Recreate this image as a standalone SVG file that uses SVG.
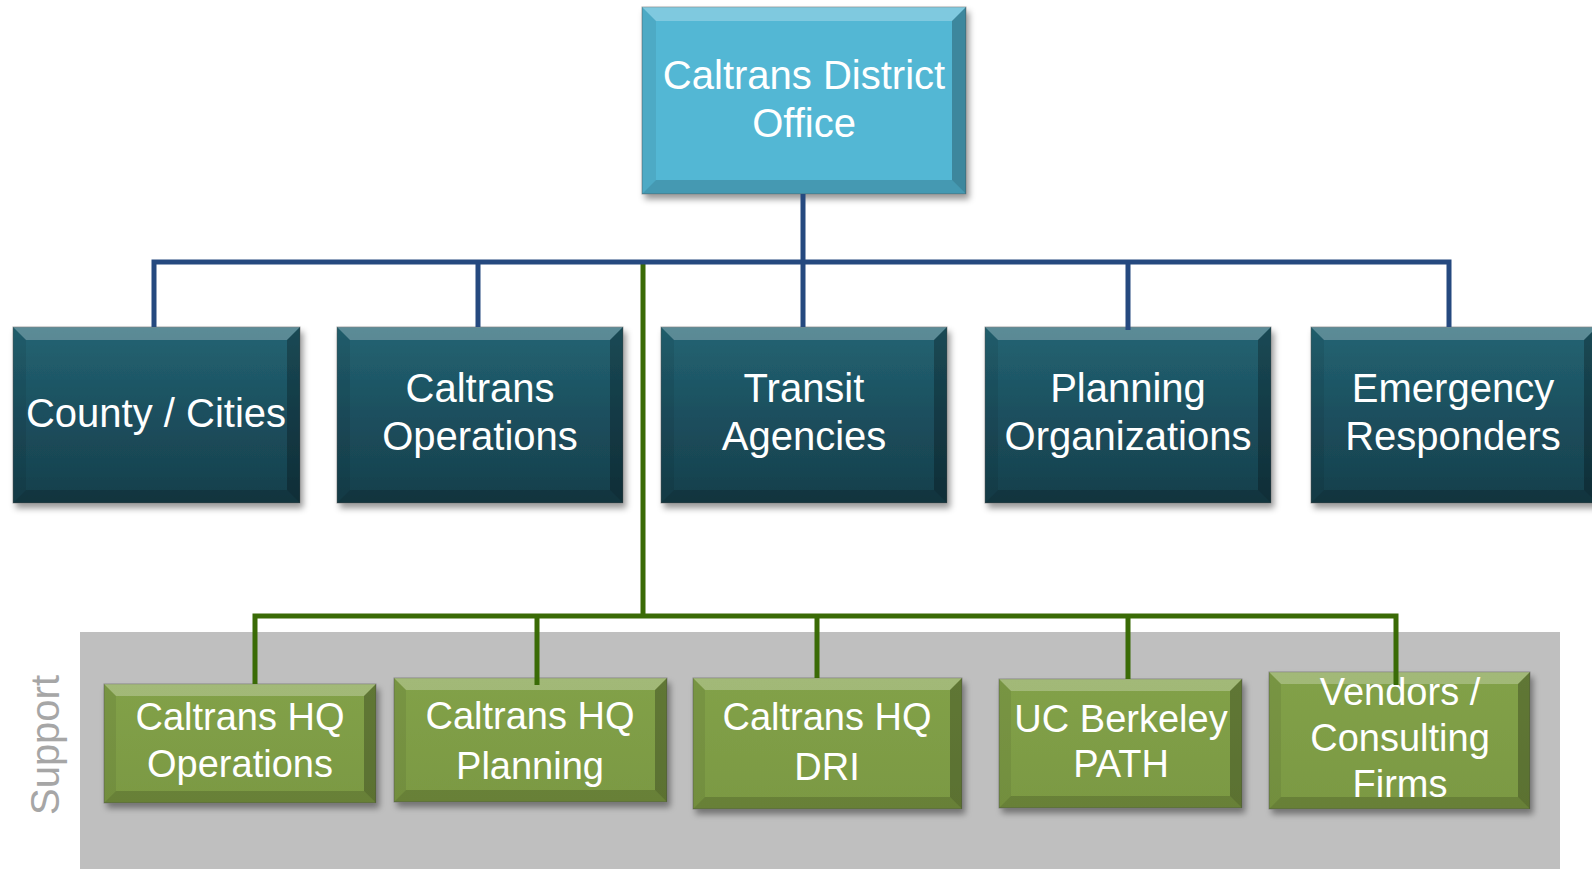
<svg xmlns="http://www.w3.org/2000/svg" width="1592" height="869" viewBox="0 0 1592 869">
<style>
text{font-family:"Liberation Sans",Arial,sans-serif;fill:#ffffff;text-anchor:middle}
.t40{font-size:40px}
.t38{font-size:38px}
.base{stroke:#5a5a5a;stroke-opacity:0.5;stroke-width:1;filter:url(#sh)}
.cy{fill:#52b7d4}
.tl{fill:url(#gTeal)}
.gr{fill:url(#gGreen)}
.bt{fill:#ffffff;fill-opacity:0.26}
.bl{fill:#000000;fill-opacity:0.07}
.br{fill:#000000;fill-opacity:0.26}
.bb{fill:#000000;fill-opacity:0.16}
.blue{fill:none;stroke:#25497f;stroke-width:5}
.green{fill:none;stroke:#3a6b06;stroke-width:5}
</style>
<defs>
<linearGradient id="gTeal" x1="0" y1="0" x2="0" y2="1">
<stop offset="0" stop-color="#236473"/>
<stop offset="0.5" stop-color="#1c4f5e"/>
<stop offset="1" stop-color="#163f4b"/>
</linearGradient>
<linearGradient id="gGreen" x1="0" y1="0" x2="0" y2="1">
<stop offset="0" stop-color="#82a148"/>
<stop offset="1" stop-color="#7b9943"/>
</linearGradient>
<filter id="sh" x="-10%" y="-10%" width="125%" height="130%">
<feDropShadow dx="3" dy="5" stdDeviation="3" flood-color="#000000" flood-opacity="0.4"/>
</filter>
</defs>
<rect width="1592" height="869" fill="#ffffff"/>
<rect id="support-panel" x="80" y="632" width="1480" height="237" fill="#bfbfbf"/>
<text transform="translate(59,745) rotate(-90)" class="t40" style="fill:#a6a6a6">Support</text>

<g id="node-district">
<rect class="base cy" x="642" y="7" width="324" height="187"/>
<path class="bt" d="M642,7 h324 l-14,14 h-296 z"/>
<path class="bl" d="M642,7 l14,14 v159 l-14,14 z"/>
<path class="br" d="M966,7 v187 l-14,-14 v-159 z"/>
<path class="bb" d="M642,194 l14,-14 h296 l14,14 z"/>
<text class="t40" x="804" y="89">Caltrans District</text>
<text class="t40" x="804" y="137">Office</text>
</g>

<g id="node-county">
<rect class="base tl" x="13" y="327" width="287" height="176"/>
<path class="bt" d="M13,327 h287 l-13,13 h-261 z"/>
<path class="bl" d="M13,327 l13,13 v150 l-13,13 z"/>
<path class="br" d="M300,327 v176 l-13,-13 v-150 z"/>
<path class="bb" d="M13,503 l13,-13 h261 l13,13 z"/>
<text class="t40" x="156" y="427">County / Cities</text>
</g>

<g id="node-caltrans-ops">
<rect class="base tl" x="337" y="327" width="286" height="176"/>
<path class="bt" d="M337,327 h286 l-13,13 h-260 z"/>
<path class="bl" d="M337,327 l13,13 v150 l-13,13 z"/>
<path class="br" d="M623,327 v176 l-13,-13 v-150 z"/>
<path class="bb" d="M337,503 l13,-13 h260 l13,13 z"/>
<text class="t40" x="480" y="402">Caltrans</text>
<text class="t40" x="480" y="450">Operations</text>
</g>

<g id="node-transit">
<rect class="base tl" x="661" y="327" width="286" height="176"/>
<path class="bt" d="M661,327 h286 l-13,13 h-260 z"/>
<path class="bl" d="M661,327 l13,13 v150 l-13,13 z"/>
<path class="br" d="M947,327 v176 l-13,-13 v-150 z"/>
<path class="bb" d="M661,503 l13,-13 h260 l13,13 z"/>
<text class="t40" x="804" y="402">Transit</text>
<text class="t40" x="804" y="450">Agencies</text>
</g>

<g id="node-planning-orgs">
<rect class="base tl" x="985" y="327" width="286" height="176"/>
<path class="bt" d="M985,327 h286 l-13,13 h-260 z"/>
<path class="bl" d="M985,327 l13,13 v150 l-13,13 z"/>
<path class="br" d="M1271,327 v176 l-13,-13 v-150 z"/>
<path class="bb" d="M985,503 l13,-13 h260 l13,13 z"/>
<text class="t40" x="1128" y="402">Planning</text>
<text class="t40" x="1128" y="450">Organizations</text>
</g>

<g id="node-emergency">
<rect class="base tl" x="1311" y="327" width="286" height="176"/>
<path class="bt" d="M1311,327 h286 l-13,13 h-260 z"/>
<path class="bl" d="M1311,327 l13,13 v150 l-13,13 z"/>
<path class="br" d="M1597,327 v176 l-13,-13 v-150 z"/>
<path class="bb" d="M1311,503 l13,-13 h260 l13,13 z"/>
<text class="t40" x="1453" y="402">Emergency</text>
<text class="t40" x="1453" y="450">Responders</text>
</g>

<g id="node-hq-ops">
<rect class="base gr" x="104" y="684" width="272" height="119"/>
<path class="bt" d="M104,684 h272 l-12,12 h-248 z"/>
<path class="bl" d="M104,684 l12,12 v95 l-12,12 z"/>
<path class="br" d="M376,684 v119 l-12,-12 v-95 z"/>
<path class="bb" d="M104,803 l12,-12 h248 l12,12 z"/>
<text class="t38" x="240" y="730">Caltrans HQ</text>
<text class="t38" x="240" y="777">Operations</text>
</g>

<g id="node-hq-planning">
<rect class="base gr" x="394" y="678" width="273" height="124"/>
<path class="bt" d="M394,678 h273 l-12,12 h-249 z"/>
<path class="bl" d="M394,678 l12,12 v100 l-12,12 z"/>
<path class="br" d="M667,678 v124 l-12,-12 v-100 z"/>
<path class="bb" d="M394,802 l12,-12 h249 l12,12 z"/>
<text class="t38" x="530" y="729">Caltrans HQ</text>
<text class="t38" x="530" y="779">Planning</text>
</g>

<g id="node-hq-dri">
<rect class="base gr" x="693" y="678" width="269" height="131"/>
<path class="bt" d="M693,678 h269 l-12,12 h-245 z"/>
<path class="bl" d="M693,678 l12,12 v107 l-12,12 z"/>
<path class="br" d="M962,678 v131 l-12,-12 v-107 z"/>
<path class="bb" d="M693,809 l12,-12 h245 l12,12 z"/>
<text class="t38" x="827" y="730">Caltrans HQ</text>
<text class="t38" x="827" y="780">DRI</text>
</g>

<g id="node-uc-berkeley">
<rect class="base gr" x="999" y="679" width="243" height="129"/>
<path class="bt" d="M999,679 h243 l-12,12 h-219 z"/>
<path class="bl" d="M999,679 l12,12 v105 l-12,12 z"/>
<path class="br" d="M1242,679 v129 l-12,-12 v-105 z"/>
<path class="bb" d="M999,808 l12,-12 h219 l12,12 z"/>
<text class="t38" x="1121" y="732">UC Berkeley</text>
<text class="t38" x="1121" y="777">PATH</text>
</g>

<g id="node-vendors">
<rect class="base gr" x="1269" y="672" width="261" height="137"/>
<path class="bt" d="M1269,672 h261 l-12,12 h-237 z"/>
<path class="bl" d="M1269,672 l12,12 v113 l-12,12 z"/>
<path class="br" d="M1530,672 v137 l-12,-12 v-113 z"/>
<path class="bb" d="M1269,809 l12,-12 h237 l12,12 z"/>
<text class="t38" x="1400" y="705">Vendors /</text>
<text class="t38" x="1400" y="751">Consulting</text>
<text class="t38" x="1400" y="797">Firms</text>
</g>

<g id="connectors">
<path class="green" d="M643,262 V616 M252.5,616 H1398.5 M255,616 V684 M537,616 V685 M817,616 V678 M1128,616 V679 M1396,616 V685"/>
<path class="blue" d="M803,194 V262 M151.5,262 H1451.5 M154,262 V327 M478,262 V327 M803,262 V327 M1128,262 V330 M1449,262 V327"/>
</g>
</svg>
